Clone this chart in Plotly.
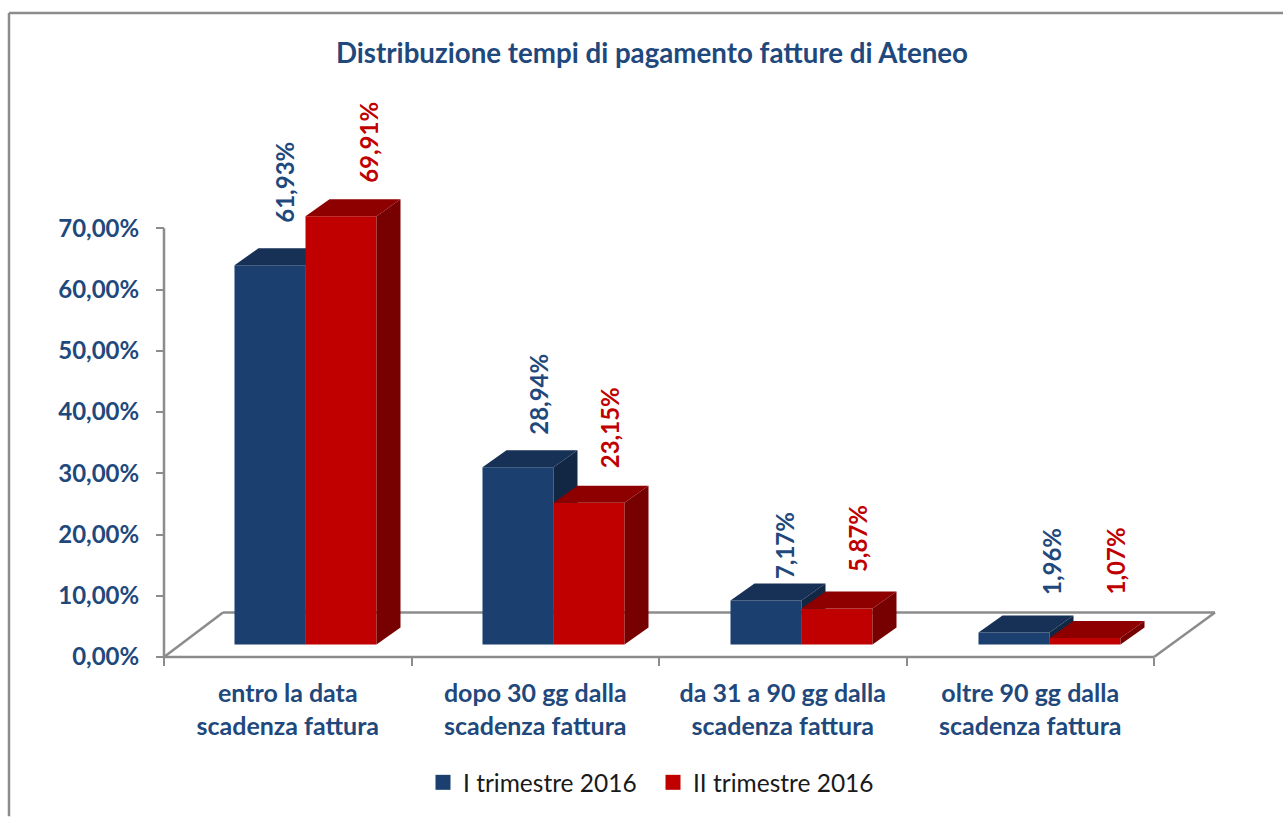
import plotly.graph_objects as go

# ---- data ----
CATEGORY_LINE_1 = ["entro la data", "dopo 30 gg dalla", "da 31 a 90 gg dalla", "oltre 90 gg dalla"]
CATEGORY_LINE_2 = ["scadenza fattura", "scadenza fattura", "scadenza fattura", "scadenza fattura"]
SERIES_1_NAME = "I trimestre 2016"
SERIES_2_NAME = "II trimestre 2016"
SERIES_1 = [61.93, 28.94, 7.17, 1.96]
SERIES_2 = [69.91, 23.15, 5.87, 1.07]
Y_TICKS = [0, 10, 20, 30, 40, 50, 60, 70]

# ---- layout constants ----
W, H = 1283, 817
X0_PX, X_END_PX = 164, 1260
Y0_PX, Y_TOP_PX = 657.5, 90
PAD_X, PAD_Y = 10, 6
PX_PER_CAT = 247.5
PX_PER_UNIT = 6.13
XMAX = (X_END_PX - X0_PX) / PX_PER_CAT
YMAX = (Y0_PX - Y_TOP_PX) / PX_PER_UNIT
XMIN = -PAD_X / PX_PER_CAT
YMIN = -PAD_Y / PX_PER_UNIT
PLOT_W = X_END_PX - X0_PX + PAD_X
PLOT_H = Y0_PX + PAD_Y - Y_TOP_PX
px_x = lambda p: p / PX_PER_CAT
px_y = lambda p: p / PX_PER_UNIT
paper_x = lambda p: (p - (X0_PX - PAD_X)) / PLOT_W
paper_y = lambda p: (Y0_PX + PAD_Y - p) / PLOT_H

BLUE, BLUE_TOP, BLUE_SIDE = "#1B3F6F", "#163056", "#122743"
RED, RED_TOP, RED_SIDE = "#C00000", "#8E0000", "#770000"
TEXT_BLUE = "#1F497D"
TEXT_RED = "#C00000"
GREY = "#8C8C8C"
FONT = "Lato"

BAR_W = px_x(71)
BASE = px_y(12.5)
CAT_X = [px_x(141.5 + i * 248) for i in range(4)]
DX, DY = px_x(24), px_y(17)
FLOOR_DX, FLOOR_DY = px_x(59), px_y(44.5)
FLOOR_DX_RIGHT = px_x(61)

LABEL_SHIFT_X_1 = [15, 21, 18, 37]
LABEL_SHIFT_X_2 = [28, 20, 20, 30]
LABEL_SHIFT_Y_1 = [41, 31, 20, 36]
LABEL_SHIFT_Y_2 = [32, 33, 35, 42]


def faces(values, left_offset):
    tx, ty, sx, sy = [], [], [], []
    for cx, v in zip(CAT_X, values):
        l = cx + left_offset
        r = l + BAR_W
        t = BASE + v
        tx += [l, l + DX, r + DX, r, l, None]
        ty += [t, t + DY, t + DY, t, t, None]
        sx += [r, r + DX, r + DX, r, r, None]
        sy += [t, t + DY, BASE + DY, BASE, t, None]
    return tx, ty, sx, sy


def fill_trace(x, y, color, xa, ya):
    return go.Scatter(x=x, y=y, mode="lines", fill="toself", fillcolor=color,
                      line=dict(width=0, color=color), xaxis=xa, yaxis=ya,
                      showlegend=False, hoverinfo="skip")


fig = go.Figure()

# first series, lower subplot
fig.add_trace(go.Bar(x=CAT_X, y=SERIES_1, base=BASE, width=BAR_W, offset=-BAR_W,
                     marker=dict(color=BLUE, line=dict(width=0)),
                     showlegend=False, xaxis="x", yaxis="y"))
tx, ty, sx, sy = faces(SERIES_1, -BAR_W)
fig.add_trace(fill_trace(sx, sy, BLUE_SIDE, "x", "y"))
fig.add_trace(fill_trace(tx, ty, BLUE_TOP, "x", "y"))

# second series, upper subplot
fig.add_trace(go.Bar(x=CAT_X, y=SERIES_2, base=BASE, width=BAR_W, offset=0,
                     marker=dict(color=RED, line=dict(width=0)),
                     showlegend=False, xaxis="x2", yaxis="y2"))
tx, ty, sx, sy = faces(SERIES_2, 0)
fig.add_trace(fill_trace(sx, sy, RED_SIDE, "x2", "y2"))
fig.add_trace(fill_trace(tx, ty, RED_TOP, "x2", "y2"))

# legend entries
fig.add_trace(go.Scatter(x=[None], y=[None], mode="markers", name=SERIES_1_NAME,
                         marker=dict(symbol="square", size=15, color=BLUE), xaxis="x3", yaxis="y2"))
fig.add_trace(go.Scatter(x=[None], y=[None], mode="markers", name=SERIES_2_NAME,
                         marker=dict(symbol="square", size=15, color=RED), xaxis="x3", yaxis="y2"))

# value labels
annotations = []
for vals, off, sxs, sys, col in [
    (SERIES_1, -BAR_W / 2, LABEL_SHIFT_X_1, LABEL_SHIFT_Y_1, TEXT_BLUE),
    (SERIES_2, BAR_W / 2, LABEL_SHIFT_X_2, LABEL_SHIFT_Y_2, TEXT_RED),
]:
    for cx, v, ax, ay in zip(CAT_X, vals, sxs, sys):
        annotations.append(dict(
            x=cx + off, y=BASE + v, xref="x", yref="y", text=f"{v:.2f}%".replace(".", ","),
            textangle=-90, showarrow=False, xanchor="center", yanchor="bottom",
            xshift=ax, yshift=ay, borderpad=0,
            font=dict(family=FONT, size=24, color=col, weight="bold"),
        ))

# floor and axes lines
line = dict(color=GREY, width=2.5)
shapes = [
    dict(type="line", xref="x", yref="y", layer="below", x0=0, y0=0, x1=4, y1=0, line=line),
    dict(type="line", xref="x", yref="y", layer="below", x0=0, y0=0, x1=0, y1=70, line=line),
    dict(type="line", xref="x", yref="y", layer="below", x0=0, y0=0, x1=FLOOR_DX, y1=FLOOR_DY, line=line),
    dict(type="line", xref="x", yref="y", layer="below", x0=FLOOR_DX, y0=FLOOR_DY, x1=4 + FLOOR_DX_RIGHT, y1=FLOOR_DY, line=line),
    dict(type="line", xref="x", yref="y", layer="below", x0=4, y0=0, x1=4 + FLOOR_DX_RIGHT, y1=FLOOR_DY, line=line),
    # outer frame, left and top only
    dict(type="line", xref="paper", yref="paper", x0=paper_x(9), x1=paper_x(W),
         y0=paper_y(13), y1=paper_y(13), line=line),
    dict(type="line", xref="paper", yref="paper", x0=paper_x(9), x1=paper_x(9),
         y0=paper_y(H), y1=paper_y(13), line=line),
]

tick_font = dict(family=FONT, size=24, color=TEXT_BLUE, weight="bold")
cat_font = dict(family=FONT, size=25, color=TEXT_BLUE, weight="bold")
label_x = [i + 0.5 for i in range(4)]
x_common = dict(range=[XMIN, XMAX], fixedrange=True, showgrid=False, zeroline=False, showline=False,
                tickmode="array", tickangle=0, anchor="free", position=paper_y(Y0_PX))
fig.update_layout(
    width=W, height=H, autosize=False,
    margin=dict(l=X0_PX - PAD_X, r=W - X_END_PX, t=Y_TOP_PX, b=H - Y0_PX - PAD_Y, pad=0),
    paper_bgcolor="white", plot_bgcolor="rgba(0,0,0,0)",
    barmode="overlay",
    title=dict(text="Distribuzione tempi di pagamento fatture di Ateneo",
               font=dict(family=FONT, size=27.7, color=TEXT_BLUE, weight="bold"),
               xref="container", yref="container", x=652 / W, xanchor="center",
               y=1 - 53 / H, yanchor="middle"),
    xaxis=dict(**x_common, tickvals=[0, 1, 2, 3, 4], ticktext=[""] * 5,
               ticks="outside", ticklen=8, tickwidth=2, tickcolor=GREY),
    yaxis=dict(range=[YMIN, YMAX], fixedrange=True, showgrid=False, zeroline=False, showline=False,
               anchor="free", position=paper_x(X0_PX),
               tickmode="array", tickvals=Y_TICKS,
               ticktext=[f"{v:.2f}%".replace(".", ",") for v in Y_TICKS],
               ticks="outside", ticklen=8, tickwidth=2, tickcolor=GREY,
               ticklabelstandoff=12, tickfont=tick_font),
    xaxis2=dict(**x_common, overlaying="x", tickvals=label_x,
                ticktext=CATEGORY_LINE_1, tickfont=cat_font, ticks="", ticklabelstandoff=19),
    xaxis3=dict(**x_common, overlaying="x", tickvals=label_x,
                ticktext=CATEGORY_LINE_2, tickfont=cat_font, ticks="", ticklabelstandoff=52),
    yaxis2=dict(range=[YMIN, YMAX], overlaying="y", fixedrange=True, visible=False),
    legend=dict(orientation="h", xref="paper", yref="paper", xanchor="left", yanchor="middle",
                x=paper_x(423), y=paper_y(783), entrywidth=185, entrywidthmode="pixels",
                font=dict(family=FONT, size=24.5, color="#1A1A1A"), bgcolor="rgba(0,0,0,0)",
                itemclick=False, itemdoubleclick=False),
    annotations=annotations, shapes=shapes,
    showlegend=True,
)

fig.write_html("out.html", config=dict(displayModeBar=False),
               post_script="document.body.style.margin='0';")
